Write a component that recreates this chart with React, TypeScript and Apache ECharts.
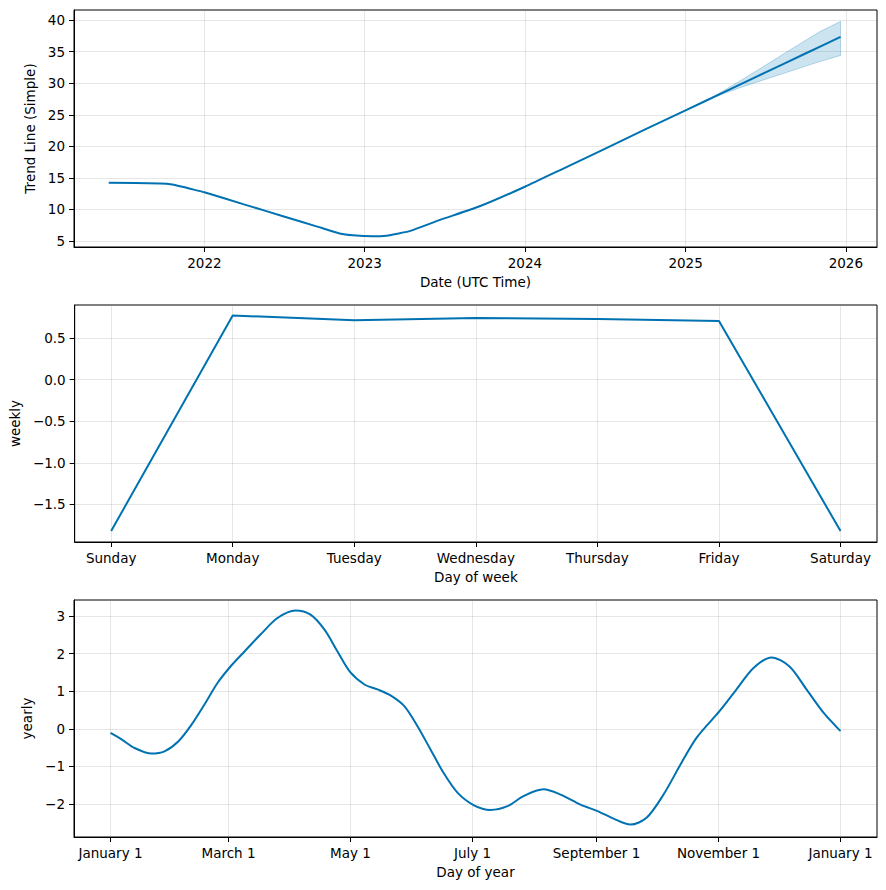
import React, { useEffect, useRef } from "react";
import * as echarts from "echarts";

// ---- Trend panel ----
const trendDates = [
  "2021-05-28", "2021-09-22", "2021-10-20", "2021-11-15", "2021-12-10", "2022-01-01",
  "2022-04-01", "2022-07-01", "2022-09-15", "2022-11-05", "2022-12-05", "2023-01-20",
  "2023-02-20", "2023-03-20", "2023-04-15", "2023-06-20", "2023-09-20", "2024-01-01",
  "2024-04-01", "2024-07-01", "2024-10-01", "2025-01-01", "2025-04-01", "2025-07-01",
  "2025-10-01", "2025-12-20",
];
const trendValues = [
  14.22, 14.13, 13.97, 13.55, 13.1, 12.72,
  10.81, 8.89, 7.28, 6.2, 5.9, 5.75,
  5.85, 6.2, 6.6, 8.3, 10.5, 13.6,
  16.6, 19.6, 22.7, 25.7, 28.67, 31.67,
  34.71, 37.35,
];
const bandDates = ["2025-01-01", "2025-03-01", "2025-05-01", "2025-07-01", "2025-09-01", "2025-11-01", "2025-12-20"];
const bandLower = [25.7, 27.6, 29.2, 30.6, 32.0, 33.4, 34.4];
const bandUpper = [25.7, 27.7, 30.2, 32.8, 35.5, 38.1, 39.8];
const trendTickYears = [2022, 2023, 2024, 2025, 2026];
const trendYTicks = [5, 10, 15, 20, 25, 30, 35, 40];

// ---- Weekly panel ----
const weekdays = ["Sunday", "Monday", "Tuesday", "Wednesday", "Thursday", "Friday", "Saturday"];
const weeklyValues = [-1.82, 0.77, 0.715, 0.74, 0.73, 0.705, -1.82];
const weeklyYTicks = [-1.5, -1.0, -0.5, 0.0, 0.5];

// ---- Yearly panel ----
const yearDays = [
  0, 5.5, 12, 20.5, 27, 34, 40.5, 47, 53.5, 60, 67, 75, 83.5, 92.5, 100, 107, 113.5, 120,
  127, 133.5, 140, 147, 153.5, 160, 166.5, 173.5, 181.5, 190, 198.5, 206.5, 216.5, 225,
  235, 243.5, 251.5, 260, 268, 276.5, 285, 293, 304.5, 313, 321.5, 330.5, 339.5, 348, 356.5, 365,
];
const yearValues = [
  -0.11, -0.28, -0.51, -0.66, -0.6, -0.33, 0.11, 0.65, 1.22, 1.66, 2.06, 2.51, 2.95, 3.15, 3.04, 2.64, 2.06, 1.5,
  1.18, 1.05, 0.89, 0.6, 0.07, -0.55, -1.17, -1.7, -2.03, -2.16, -2.06, -1.79, -1.61, -1.75,
  -2.02, -2.19, -2.39, -2.55, -2.37, -1.75, -0.95, -0.24, 0.47, 1.05, 1.62, 1.9, 1.66, 1.05, 0.43, -0.06,
];
const yearTickDays = [0, 59, 120, 181, 243, 304, 365];
const yearTickLabels = ["January 1", "March 1", "May 1", "July 1", "September 1", "November 1", "January 1"];
const yearlyYTicks = [-2, -1, 0, 1, 2, 3];

const FONT = "DejaVu Sans";
const FS = 13.5;
const LINE = "#0072B2";

const toTs = (s: string) => Date.parse(s + "T00:00:00Z");
const minus = (s: string) => s.replace("-", "\u2212");

function axisCommon(custom: number[], formatter: (v: number) => string) {
  return {
    axisLine: { show: true, onZero: false, lineStyle: { color: "#000", width: 1 } },
    axisTick: { show: true, length: 5, lineStyle: { color: "#000", width: 1 }, customValues: custom },
    axisLabel: { color: "#000", fontSize: FS, fontFamily: FONT, margin: 9, customValues: custom, formatter, hideOverlap: false },
    splitLine: { show: true, lineStyle: { color: "rgba(128,128,128,0.2)", width: 1 } },
    nameTextStyle: { color: "#000", fontSize: FS, fontFamily: FONT },
    nameLocation: "middle",
  };
}

export default function App() {
  const ref = useRef<HTMLDivElement>(null);
  useEffect(() => {
    document.body.style.margin = "0";
    if (!ref.current) return;
    const chart = echarts.init(ref.current, undefined, { renderer: "svg" });
    const gridBase = { left: 74, width: 803, height: 237, show: true, borderColor: "#000", borderWidth: 1, backgroundColor: "transparent", containLabel: false };
    const trendXTicks = trendTickYears.map((y) => Date.UTC(y, 0, 1));
    const bandData = bandDates.map((d, i) => [toTs(d), bandLower[i], bandUpper[i]]);
    const option: any = {
      animation: false,
      useUTC: true,
      backgroundColor: "#fff",
      textStyle: { fontFamily: FONT },
      grid: [
        { ...gridBase, top: 10 },
        { ...gridBase, top: 305 },
        { ...gridBase, top: 600 },
      ],
      xAxis: [
        {
          type: "value", gridIndex: 0,
          min: toTs("2021-03-10"), max: toTs("2026-03-13"),
          name: "Date (UTC Time)", nameGap: 28,
          ...axisCommon(trendXTicks, (v: number) => String(new Date(v).getUTCFullYear())),
        },
        {
          type: "value", gridIndex: 1, min: -0.3, max: 6.3,
          name: "Day of week", nameGap: 28,
          ...axisCommon([0, 1, 2, 3, 4, 5, 6], (v: number) => weekdays[Math.round(v)] ?? ""),
        },
        {
          type: "value", gridIndex: 2, min: -18.25, max: 383.25,
          name: "Day of year", nameGap: 28,
          ...axisCommon(yearTickDays, (v: number) => {
            const i = yearTickDays.indexOf(v);
            return i >= 0 ? yearTickLabels[i] : "";
          }),
        },
      ],
      yAxis: [
        {
          type: "value", gridIndex: 0, min: 4.05, max: 41.6,
          name: "Trend Line (Simple)", nameGap: 35,
          ...axisCommon(trendYTicks, (v: number) => String(v)),
        },
        {
          type: "value", gridIndex: 1, min: -1.952, max: 0.897,
          name: "weekly", nameGap: 50,
          ...axisCommon(weeklyYTicks, (v: number) => minus(v.toFixed(1))),
        },
        {
          type: "value", gridIndex: 2, min: -2.88, max: 3.43,
          name: "yearly", nameGap: 37,
          ...axisCommon(yearlyYTicks, (v: number) => minus(String(Math.round(v)))),
        },
      ],
      series: [
        {
          type: "custom", xAxisIndex: 0, yAxisIndex: 0, silent: true, z: 1,
          data: bandData,
          encode: { x: 0, y: [1, 2] },
          renderItem: (params: any, api: any) => {
            if (params.dataIndex !== 0) return null;
            const upper = bandData.map((p) => api.coord([p[0], p[2]]));
            const lower = bandData.map((p) => api.coord([p[0], p[1]])).reverse();
            return {
              type: "polygon",
              shape: { points: upper.concat(lower) },
              style: { fill: "rgba(0,114,178,0.2)", stroke: "rgba(0,114,178,0.25)", lineWidth: 1 },
            };
          },
        },
        {
          type: "line", xAxisIndex: 0, yAxisIndex: 0, symbol: "none", smooth: 0.2,
          data: trendDates.map((d, i) => [toTs(d), trendValues[i]]),
          lineStyle: { color: LINE, width: 2 }, z: 3,
        },
        {
          type: "line", xAxisIndex: 1, yAxisIndex: 1, symbol: "none",
          data: weeklyValues.map((v, i) => [i, v]),
          lineStyle: { color: LINE, width: 2 }, z: 3,
        },
        {
          type: "line", xAxisIndex: 2, yAxisIndex: 2, symbol: "none", smooth: 0.3,
          data: yearDays.map((d, i) => [d, yearValues[i]]),
          lineStyle: { color: LINE, width: 2 }, z: 3,
        },
      ],
    };
    chart.setOption(option);
    return () => chart.dispose();
  }, []);
  return <div ref={ref} style={{ width: 886, height: 890 }} />;
}
